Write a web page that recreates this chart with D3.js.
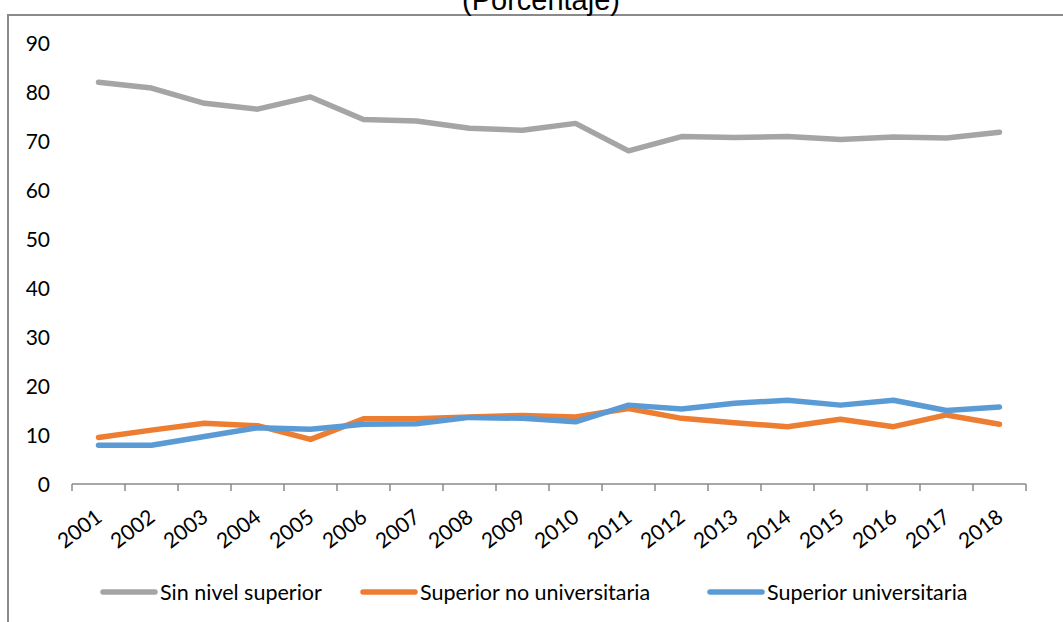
<!DOCTYPE html>
<meta charset="utf-8">
<style>
body { margin: 0; background: #fff; }
svg { display: block; }
.tick text { font-family: Lato, "Open Sans", sans-serif; fill: #000; }
</style>
<body>
<script src="https://cdn.jsdelivr.net/npm/d3@7"></script>
<script>
'use strict';

const years = ["2001","2002","2003","2004","2005","2006","2007","2008","2009",
               "2010","2011","2012","2013","2014","2015","2016","2017","2018"];
const sinNivel = [82.2, 81.0, 77.9, 76.7, 79.2, 74.6, 74.3, 72.8, 72.4,
                  73.8, 68.2, 71.1, 70.9, 71.1, 70.5, 71.0, 70.8, 72.0];
const noUniv   = [9.7, 11.2, 12.6, 12.1, 9.3, 13.5, 13.5, 13.9, 14.2,
                  13.9, 15.6, 13.6, 12.7, 11.9, 13.4, 11.9, 14.3, 12.4];
const univ     = [8.1, 8.1, 9.9, 11.7, 11.4, 12.4, 12.5, 13.8, 13.6,
                  12.9, 16.3, 15.5, 16.7, 17.3, 16.3, 17.3, 15.2, 15.9];
const yTicks = [0, 10, 20, 30, 40, 50, 60, 70, 80, 90];

const series = [
  {name: "Sin nivel superior", values: sinNivel, color: "#a5a5a5"},
  {name: "Superior no universitaria", values: noUniv, color: "#ed7d31"},
  {name: "Superior universitaria", values: univ, color: "#5b9bd5"}
];

const W = 1063, H = 622;
const svg = d3.select("body").append("svg").attr("width", W).attr("height", H);

// outer frame (cut off on right and bottom)
svg.append("rect")
  .attr("x", 8).attr("y", 15).attr("width", 1100).attr("height", 700)
  .attr("fill", "none").attr("stroke", "#8a8a8a").attr("stroke-width", 2);

// title, partly above the top of the picture
svg.append("text")
  .attr("x", 541).attr("y", 10)
  .attr("text-anchor", "middle")
  .style("font-family", "'Liberation Sans', Arial, sans-serif")
  .style("font-size", "29px")
  .text("(Porcentaje)");

const x = d3.scaleBand().domain(years).range([72, 1026]);
const y = d3.scaleLinear().domain([0, 90]).range([485, 44]);

// y axis: labels only
const yAxis = svg.append("g")
  .attr("transform", "translate(50,0)")
  .call(d3.axisLeft(y).tickValues(yTicks).tickSize(0).tickPadding(0));
yAxis.select(".domain").remove();
yAxis.selectAll("text").style("font-size", "21px");

// x axis with ticks between categories
const xAxis = svg.append("g").attr("transform", "translate(0,484)");
xAxis.append("line")
  .attr("x1", x.range()[0]).attr("x2", x.range()[1])
  .attr("stroke", "#8a8a8a").attr("stroke-width", 1.5);
xAxis.selectAll("line.tk")
  .data(years.concat(["end"]))
  .join("line").attr("class", "tk")
  .attr("x1", (d, i) => x.range()[0] + i * x.step())
  .attr("x2", (d, i) => x.range()[0] + i * x.step())
  .attr("y1", 0).attr("y2", 7)
  .attr("stroke", "#8a8a8a").attr("stroke-width", 1.5);
xAxis.selectAll("text")
  .data(years)
  .join("text")
  .attr("transform", d => `translate(${x(d) + x.bandwidth() / 2 - 4},${24}) rotate(-37)`)
  .attr("text-anchor", "end")
  .attr("dy", "0.71em")
  .style("font-family", "Lato, 'Open Sans', sans-serif")
  .style("font-size", "21px")
  .text(d => d);

const line = d3.line()
  .x((d, i) => x(years[i]) + x.bandwidth() / 2)
  .y(d => y(d));

svg.selectAll("path.series")
  .data(series)
  .join("path")
  .attr("class", "series")
  .attr("d", d => line(d.values))
  .attr("fill", "none")
  .attr("stroke", d => d.color)
  .attr("stroke-width", 5.5)
  .attr("stroke-linejoin", "round")
  .attr("stroke-linecap", "round");

// legend
const legendX = [103, 363, 710];
const lg = svg.selectAll("g.lg")
  .data(series)
  .join("g").attr("class", "lg")
  .attr("transform", (d, i) => `translate(${legendX[i]},592)`);
lg.append("line")
  .attr("x1", 0).attr("x2", 52)
  .attr("stroke", d => d.color).attr("stroke-width", 5.5)
  .attr("stroke-linecap", "round");
lg.append("text")
  .attr("x", 57).attr("dy", "0.35em")
  .style("font-family", "Lato, 'Open Sans', sans-serif")
  .style("font-size", "21.5px")
  .text(d => d.name);
</script>
</body>
